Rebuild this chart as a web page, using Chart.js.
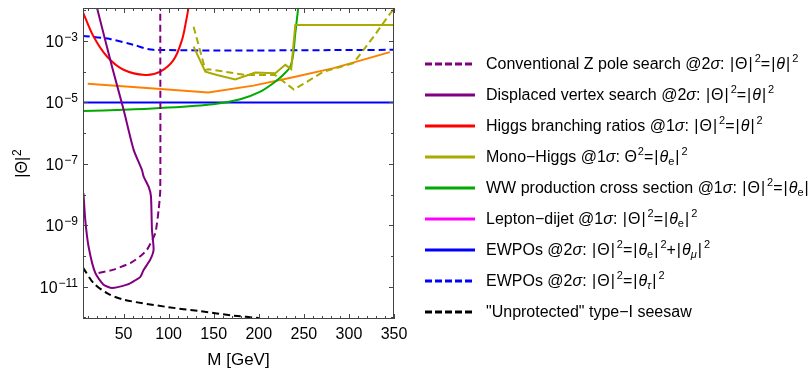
<!DOCTYPE html>
<html>
<head>
<meta charset="utf-8">
<script src="https://cdn.jsdelivr.net/npm/chart.js@4"></script>
<style>
html, body { margin: 0; padding: 0; background: #fff; overflow: hidden; }
#wrap { position: relative; width: 810px; height: 369px; }
#legend { position: absolute; left: 0; top: 0; width: 810px; height: 369px; font-family: "Liberation Sans", Arial, sans-serif; font-size: 16px; color: #000; }
.row { position: absolute; left: 425px; white-space: nowrap; height: 20px; line-height: 20px; }
.row svg { position: absolute; left: 0; top: 8px; }
.row span.t { position: absolute; left: 61px; top: 0; }
.b { margin: 0 1px; }
sup { font-size: 11px; vertical-align: 7px; line-height: 0; margin-left: 1px; }
sub { font-size: 11px; vertical-align: -3px; line-height: 0; }
</style>
</head>
<body>
<div id="wrap">
  <canvas id="myChart" width="810" height="369"></canvas>
  <div id="legend"></div>
</div>
<script>
// M [GeV] and |Theta|^2, one pair of arrays per curve
const zPoleM = [22.3, 38.9, 57.5, 68.6, 76, 85.2, 88.9, 90.7, 90.7];
const zPoleTheta = [2.8e-11, 3.6e-11, 5.9e-11, 9.8e-11, 1.6e-10, 5.6e-10, 3.2e-9, 1.4e-8, 1.2e-2];

const displacedM = [5.5, 7.5, 11.2, 18.6, 27.8, 37.2, 53.8, 61.1, 68.6, 72.2, 79.6, 83.3, 81.5, 80.4, 77.8, 72.2, 70.4, 61.1, 50, 37.2, 20.5];
const displacedTheta = [1.1e-8, 1.5e-9, 2.0e-10, 2.8e-11, 1.17e-11, 9.1e-12, 1.17e-11, 1.5e-11, 2.1e-11, 3.5e-11, 7.6e-11, 1.6e-10, 7.1e-10, 8.7e-9, 1.8e-8, 3.9e-8, 6.3e-8, 2.9e-7, 5.8e-6, 1.45e-4, 1.2e-2];

const higgsM = [5, 16.7, 31.6, 50, 74.1, 90.7, 105.5, 114.8, 119.6, 122.1];
const higgsTheta = [8.5e-3, 1.38e-3, 3.1e-4, 1.15e-4, 7.8e-5, 1.0e-4, 2.4e-4, 1.07e-3, 4.8e-3, 1.2e-2];

const monoHiggsM = [127.7, 140.7, 153.6, 173.9, 196.1, 218.3, 229.4, 236, 240.5, 350];
const monoHiggsTheta = [6.5e-4, 1.0e-4, 7.8e-5, 5.6e-5, 9.3e-5, 8.9e-5, 1.66e-4, 1.2e-4, 3.3e-3, 3.3e-3];

const monoHiggsDashM = [127.7, 140.7, 144.3, 185, 218, 239, 272, 305, 327.4, 345.9, 351];
const monoHiggsDashTheta = [2.9e-3, 1.14e-4, 1.2e-4, 7.8e-5, 7.8e-5, 2.6e-5, 1.0e-4, 1.88e-4, 1.38e-3, 7.9e-3, 1.2e-2];

const wwM = [5, 50, 90.7, 149.5, 179.5, 201.7, 216, 227, 235, 238.3, 240.5, 243.8];
const wwTheta = [5.2e-6, 5.7e-6, 6.5e-6, 8.7e-6, 1.26e-5, 2.24e-5, 4.2e-5, 7.8e-5, 1.45e-4, 4.0e-4, 1.8e-3, 1.2e-2];

const dijetM = [10.3, 91, 144, 194, 238, 283, 345.5];
const dijetTheta = [4.0e-5, 2.7e-5, 2.1e-5, 3.5e-5, 6.6e-5, 1.3e-4, 4.3e-4];

const ewpoEmuM = [5, 350];
const ewpoEmuTheta = [9.8e-6, 9.8e-6];

const ewpoTauM = [5, 35, 61, 83, 350];
const ewpoTauTheta = [1.45e-3, 1.15e-3, 7.4e-4, 5.1e-4, 5.1e-4];

const seesawM = [5, 16.7, 31.6, 50, 98, 135, 172, 200];
const seesawTheta = [4.2e-11, 1.32e-11, 6.2e-12, 3.8e-12, 2.2e-12, 1.6e-12, 1.15e-12, 9.6e-13];

// axis ticks
const xTicks = [50, 100, 150, 200, 250, 300, 350];
const yTickExps = [-3, -5, -7, -9, -11];

const legendLabels = [
  'Conventional Z pole search @2<i>σ</i>: |Θ|<sup>2</sup>=|<i>θ</i>|<sup>2</sup>',
  'Displaced vertex search @2<i>σ</i>: |Θ|<sup>2</sup>=|<i>θ</i>|<sup>2</sup>',
  'Higgs branching ratios @1<i>σ</i>: |Θ|<sup>2</sup>=|<i>θ</i>|<sup>2</sup>',
  'Mono\u2212Higgs @1<i>σ</i>: Θ<sup>2</sup>=|<i>θ</i><sub>e</sub>|<sup>2</sup>',
  'WW production cross section @1<i>σ</i>: |Θ|<sup>2</sup>=|<i>θ</i><sub>e</sub>|<sup>2</sup>',
  'Lepton\u2212dijet @1<i>σ</i>: |Θ|<sup>2</sup>=|<i>θ</i><sub>e</sub>|<sup>2</sup>',
  'EWPOs @2<i>σ</i>: |Θ|<sup>2</sup>=|<i>θ</i><sub>e</sub>|<sup>2</sup>+|<i>θ</i><sub><i>μ</i></sub>|<sup>2</sup>',
  'EWPOs @2<i>σ</i>: |Θ|<sup>2</sup>=|<i>θ</i><sub><i>τ</i></sub>|<sup>2</sup>',
  '"Unprotected" type\u2212I seesaw'
];
const legendColors = ['#800080', '#800080', '#ff0000', '#aaaa00', '#00aa00', '#ff00ff', '#0000ff', '#0000ff', '#000000'];
const legendDashed = [true, false, false, false, false, false, false, true, true];

function series(label, xs, ys, color, dash, tension){
  return {
    label: label,
    data: xs.map((m, i) => ({x: m, y: ys[i]})),
    borderColor: color,
    borderWidth: 2,
    borderDash: dash ? [7, 4] : [],
    pointRadius: 0,
    tension: tension || 0,
    fill: false
  };
}

function supText(ctx, base, exp, x, y, align){
  // draws base with a raised exponent, x is right edge or centre
  ctx.font = '16px "Liberation Sans", Arial, sans-serif';
  let wb = ctx.measureText(base).width;
  ctx.font = '12px "Liberation Sans", Arial, sans-serif';
  let we = ctx.measureText(exp).width;
  let start = align == 'right' ? x - wb - we - 1 : x - (wb + we + 1) / 2;
  ctx.textAlign = 'left';
  ctx.font = '16px "Liberation Sans", Arial, sans-serif';
  ctx.fillText(base, start, y);
  ctx.font = '12px "Liberation Sans", Arial, sans-serif';
  ctx.fillText(exp, start + wb + 1, y - 6);
}

const framePlugin = {
  id: 'frame',
  afterDatasetsDraw(chart){
    const ctx = chart.ctx;
    const a = chart.chartArea;
    const x = chart.scales.x;
    const y = chart.scales.y;
    ctx.save();
    ctx.strokeStyle = '#444';
    ctx.lineWidth = 1;
    ctx.strokeRect(a.left + 0.5, a.top + 0.5, a.right - a.left - 1, a.bottom - a.top - 1);

    // x ticks, inside, top and bottom
    ctx.beginPath();
    for(let v = 10; v <= 350; v += 10){
      let px = Math.round(x.getPixelForValue(v)) + 0.5;
      let len = v % 50 == 0 ? 5 : 3;
      ctx.moveTo(px, a.bottom); ctx.lineTo(px, a.bottom - len);
      ctx.moveTo(px, a.top); ctx.lineTo(px, a.top + len);
    }
    // y ticks, every decade, longer on labelled ones
    for(let e = -12; e <= -2; e++){
      let py = Math.round(y.getPixelForValue(Math.pow(10, e))) + 0.5;
      if(py < a.top || py > a.bottom) continue;
      let len = yTickExps.includes(e) ? 5 : 3;
      ctx.moveTo(a.left, py); ctx.lineTo(a.left + len, py);
      ctx.moveTo(a.right, py); ctx.lineTo(a.right - len, py);
    }
    ctx.stroke();

    ctx.fillStyle = '#000';
    ctx.textBaseline = 'alphabetic';
    ctx.font = '16px "Liberation Sans", Arial, sans-serif';
    ctx.textAlign = 'center';
    for(let i = 0; i < xTicks.length; i++){
      ctx.fillText(String(xTicks[i]), x.getPixelForValue(xTicks[i]), a.bottom + 20);
    }
    for(let i = 0; i < yTickExps.length; i++){
      let py = y.getPixelForValue(Math.pow(10, yTickExps[i]));
      supText(ctx, '10', '\u2212' + Math.abs(yTickExps[i]), a.left - 5, py + 6, 'right');
    }

    // axis titles
    ctx.font = '17px "Liberation Sans", Arial, sans-serif';
    ctx.textAlign = 'center';
    ctx.fillText('M [GeV]', (a.left + a.right) / 2, 365);

    ctx.translate(27, (a.top + a.bottom) / 2);
    ctx.rotate(-Math.PI / 2);
    supText(ctx, '|\u0398|', '2', 0, 0, 'center');
    ctx.restore();
  }
};

chartIt();

function chartIt(){
  let ctx = document.getElementById('myChart').getContext('2d');

  let myChart = new Chart(ctx, {
    type: 'line',
    data: {
      datasets: [
        series('Conventional Z pole search', zPoleM, zPoleTheta, '#800080', true, 0.2),
        series('Displaced vertex search', displacedM, displacedTheta, '#800080', false, 0.2),
        series('Higgs branching ratios', higgsM, higgsTheta, '#ff0000', false, 0.35),
        series('Mono-Higgs', monoHiggsM, monoHiggsTheta, '#aaaa00', false, 0),
        series('Mono-Higgs (dashed)', monoHiggsDashM, monoHiggsDashTheta, '#aaaa00', true, 0),
        series('WW production cross section', wwM, wwTheta, '#00aa00', false, 0.3),
        series('Lepton-dijet', dijetM, dijetTheta, '#ff8000', false, 0),
        series('EWPOs e+mu', ewpoEmuM, ewpoEmuTheta, '#0000ff', false, 0),
        series('EWPOs tau', ewpoTauM, ewpoTauTheta, '#0000ff', true, 0.3),
        series('Unprotected type-I seesaw', seesawM, seesawTheta, '#000000', true, 0.3)
      ]
    },
    options: {
      responsive: false,
      animation: false,
      devicePixelRatio: 1,
      layout: { padding: { left: 83, top: 8, right: 416, bottom: 50 } },
      plugins: { legend: { display: false }, tooltip: { enabled: false } },
      scales: {
        x: { type: 'linear', min: 5, max: 350, display: false },
        y: { type: 'logarithmic', min: Math.pow(10, -12.05), max: Math.pow(10, -1.93), display: false }
      }
    },
    plugins: [framePlugin]
  });

  // html legend
  let legend = document.getElementById('legend');
  for(let i = 0; i < legendLabels.length; i++){
    let row = document.createElement('div');
    row.className = 'row';
    row.style.top = (54 + i * 31) + 'px';
    let dash = legendDashed[i] ? ' stroke-dasharray="7 3"' : '';
    let text = legendLabels[i].replace(/\|/g, '<span class="b">|</span>');
    row.innerHTML = '<svg width="52" height="4"><line x1="0" y1="2" x2="50" y2="2" stroke="' + legendColors[i] + '" stroke-width="3"' + dash + '/></svg><span class="t">' + text + '</span>';
    legend.appendChild(row);
  }
}
</script>
</body>
</html>
